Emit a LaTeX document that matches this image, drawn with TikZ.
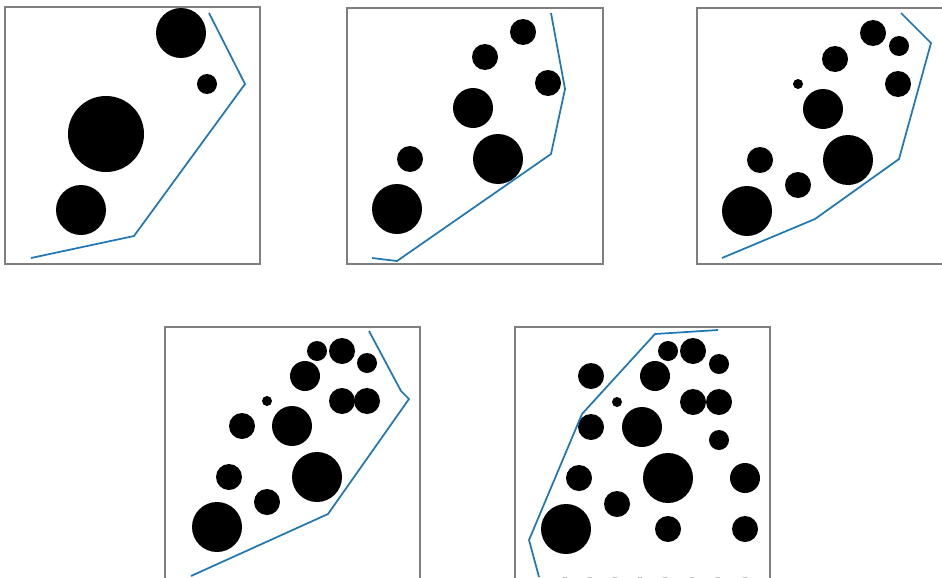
\documentclass[tikz,border=0pt]{standalone}
\definecolor{mplblue}{HTML}{1F77B4}
\definecolor{framegray}{HTML}{7F7F7F}
\begin{document}
\begin{tikzpicture}[x=0.75pt,y=-0.75pt,
  frame/.style={draw=framegray,line width=0.8pt},
  hull/.style={draw=mplblue,line width=1.3pt,line join=miter},
  disc/.style={fill=black},
  tickmark/.style={draw=black!25,line width=0.6pt}]
\useasboundingbox (0,0) rectangle (942,578);
\clip (0,0) rectangle (942,578);
% ---- panel 1
\draw[frame] (5,7) rectangle (260,264);
\foreach \x/\y/\r in {181/33/25, 207/84/10, 106/134/38, 81/210/25}
  \fill[disc] (\x,\y) circle (\r);
\coordinate (a1) at (209,13); \coordinate (a2) at (245,84);
\coordinate (a3) at (134,236); \coordinate (a4) at (31,258);
\draw[hull] (a1) -- (a2) -- (a3) -- (a4);
% ---- panel 2
\draw[frame] (347,8) rectangle (603,264);
\foreach \x/\y/\r in {523/32/13, 485/57/13, 548/83/13, 473/108/20, 498/159/25, 410/159/13, 397/209/25}
  \fill[disc] (\x,\y) circle (\r);
\coordinate (b1) at (551,13); \coordinate (b2) at (565,89);
\coordinate (b3) at (551,154); \coordinate (b4) at (397,261);
\coordinate (b5) at (372,258);
\draw[hull] (b1) -- (b2) -- (b3) -- (b4) -- (b5);
% ---- panel 3
\draw[frame] (697,8) rectangle (950,264);
\foreach \x/\y/\r in {873/33/13, 899/46/10, 835/59/13, 798/84/5, 898/84/13, 823/109/20, 848/160/25, 760/160/13, 798/185/13, 747/211/25}
  \fill[disc] (\x,\y) circle (\r);
\coordinate (c1) at (901,13); \coordinate (c2) at (931,43);
\coordinate (c3) at (899,159); \coordinate (c4) at (815,219);
\coordinate (c5) at (722,258);
\draw[hull] (c1) -- (c2) -- (c3) -- (c4) -- (c5);
% ---- panel 4
\draw[frame] (165,585) -- (165,327) -- (420,327) -- (420,585);
\foreach \x/\y/\r in {317/351/10, 342/351/13, 367/363/10, 305/376/15, 267/401/5, 342/401/13, 367/401/13, 242/426/13, 292/426/20, 229/477/13, 317/477/25, 267/502/13, 217/527/25}
  \fill[disc] (\x,\y) circle (\r);
\coordinate (d1) at (369,331); \coordinate (d2) at (401,391);
\coordinate (d3) at (409,399); \coordinate (d4) at (328,514);
\coordinate (d5) at (191,576);
\draw[hull] (d1) -- (d2) -- (d3) -- (d4) -- (d5);
% ---- panel 5
\draw[frame] (515,585) -- (515,327) -- (770,327) -- (770,585);
\foreach \x/\y/\r in {668/351/10, 693/351/13, 719/364/10, 591/376/13, 655/376/15, 617/402/5, 693/402/13, 719/402/13, 591/427/13, 642/427/20, 719/440/10, 579/478/13, 668/478/25, 745/478/15, 617/504/13, 566/529/25, 668/529/13, 745/529/13}
  \fill[disc] (\x,\y) circle (\r);
\coordinate (e1) at (718,330); \coordinate (e2) at (655,334);
\coordinate (e3) at (582,414); \coordinate (e4) at (529,540);
\coordinate (e5) at (539,577);
\draw[hull] (e1) -- (e2) -- (e3) -- (e4) -- (e5);
\foreach \x in {565,590,615,640,665,692,718,745}
  \draw[tickmark] (\x-2,577) -- (\x+2,577);
\end{tikzpicture}
\end{document}
